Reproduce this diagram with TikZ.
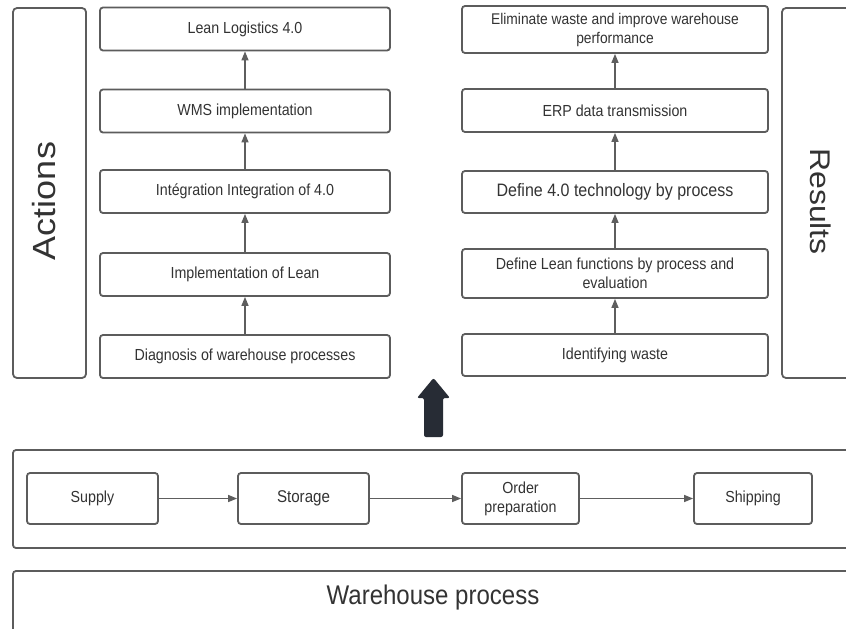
\documentclass[tikz,border=0pt]{standalone}
\usepackage{fontspec}
\usepackage{graphicx}
\setmainfont{Liberation Sans}
\newfontfamily\nf[FakeStretch=0.89]{Liberation Sans}
\usetikzlibrary{arrows.meta}
\definecolor{linegray}{HTML}{5C5C5C}
\definecolor{textgray}{HTML}{333333}
\definecolor{arrowgray}{HTML}{5E5E5E}
\definecolor{bigarrow}{HTML}{272C35}
\begin{document}
\begin{tikzpicture}[x=1pt,y=-1pt,
  box/.style={draw=linegray, line width=1.8pt, rounded corners=3pt, fill=white,
    align=center, text=textgray, inner sep=0pt, outer sep=0.9pt,
    font=\nf\fontsize{16}{19}\selectfont},
  lbox/.style={box, minimum width=290pt, minimum height=43pt},
  rbox/.style={box, minimum width=306pt, minimum height=43pt},
  pbox/.style={box, minimum height=51pt},
  panel/.style={draw=linegray, line width=1.8pt, rounded corners=4pt, fill=white},
  conn/.style={draw=arrowgray, line width=1.4pt, -{Triangle[width=7pt,length=9pt]}}
]
\clip (0,0) rectangle (846,629);
\fill[white] (0,0) rectangle (846,629);

% side panels
\draw[panel] (13,8) rectangle (86,378);
\draw[panel] (782,8) rectangle (870,378);
\node[rotate=90, text=textgray] (actions) at (44,201)
  {\scalebox{1}[0.89]{\fontsize{36}{40}\selectfont Actions}};
\node[rotate=-90, text=textgray] (results) at (821,201.5)
  {\scalebox{1}[0.89]{\fontsize{32}{36}\selectfont Results}};

% left column
\node[lbox] (l1) at (245,29) {Lean Logistics 4.0};
\node[lbox] (l2) at (245,111) {WMS implementation};
\node[lbox] (l3) at (245,191.5) {Intégration Integration of 4.0};
\node[lbox] (l4) at (245,274.5) {Implementation of Lean};
\node[lbox] (l5) at (245,356.5) {Diagnosis of warehouse processes};
\draw[conn] (l5) -- (l4);
\draw[conn] (l4) -- (l3);
\draw[conn] (l3) -- (l2);
\draw[conn] (l2) -- (l1);

% right column
\node[rbox, minimum height=47pt, font=\nf\fontsize{15.5}{19}\selectfont] (r1) at (615,29.5)
  {Eliminate waste and improve warehouse\\performance};
\node[rbox] (r2) at (615,110.5) {ERP data transmission};
\node[rbox, minimum height=42pt, font=\nf\fontsize{18}{21}\selectfont] (r3) at (615,192) {Define 4.0 technology by process};
\node[rbox, minimum height=49pt] (r4) at (615,273.5) {Define Lean functions by process and\\evaluation};
\node[rbox, minimum height=42pt] (r5) at (615,355) {Identifying waste};
\draw[conn] (r5) -- (r4);
\draw[conn] (r4) -- (r3);
\draw[conn] (r3) -- (r2);
\draw[conn] (r2) -- (r1);

% big arrow
\fill[bigarrow, rounded corners=2pt] (433.5,378) -- (450,398) -- (443,398) -- (443,437)
  -- (424,437) -- (424,398) -- (417,398) -- cycle;

% process container
\draw[panel, rounded corners=3pt] (13,450) rectangle (870,548);
\node[pbox, minimum width=131pt] (supply) at (92.5,498.5) {Supply};
\node[pbox, minimum width=131pt, font=\nf\fontsize{17}{19}\selectfont] (storage) at (303.5,498.5) {Storage};
\node[pbox, minimum width=117pt] (order) at (520.5,498.5) {Order\\preparation};
\node[pbox, minimum width=118pt] (shipping) at (753,498.5) {Shipping};
\draw[conn] (supply) -- (storage);
\draw[conn] (storage) -- (order);
\draw[conn] (order) -- (shipping);

% warehouse process label panel
\draw[panel, rounded corners=3pt] (13,571) rectangle (870,650);
\node[text=textgray, font=\nf\fontsize{27}{30}\selectfont] (wp) at (433,598) {Warehouse process};
\end{tikzpicture}
\end{document}
